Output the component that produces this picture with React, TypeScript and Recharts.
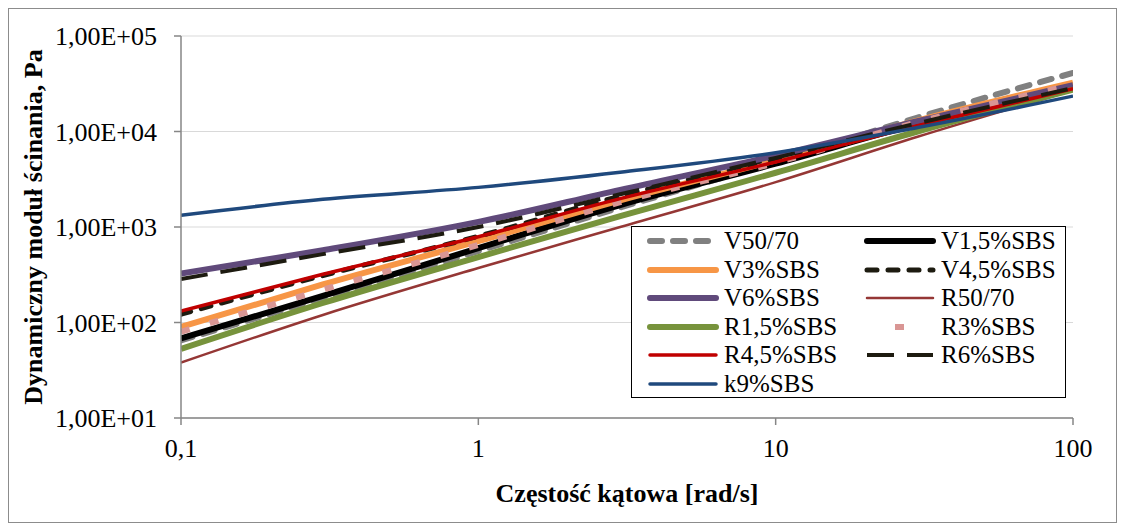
import React from "react";
import {
  CartesianGrid,
  Label,
  Legend,
  Line,
  LineChart,
  XAxis,
  YAxis,
} from "recharts";

const FONT = "Liberation Serif, DejaVu Serif, serif";

// angular frequency [rad/s]
const freq = [0.1, 0.3, 1, 3, 10, 30, 100];
const xTicks = [0.1, 1, 10, 100];
const yTicks = [10, 100, 1000, 10000, 100000];

// dynamic shear modulus [Pa]
const v5070 = [65, 180, 560, 1600, 4800, 14000, 41000];
const v15 = [68, 190, 600, 1700, 4600, 12000, 29500];
const v3 = [90, 250, 710, 1900, 5000, 13000, 32500];
const v45 = [122, 310, 800, 2100, 5200, 12500, 29000];
const v6 = [325, 570, 1130, 2450, 5600, 12800, 30500];
const r5070 = [38, 120, 372, 1000, 2950, 8800, 27000];
const r15 = [53, 160, 485, 1300, 3700, 10000, 27500];
const r3 = [80, 220, 650, 1820, 4700, 12500, 31000];
const r45 = [132, 320, 790, 1980, 4800, 11500, 28000];
const r6 = [285, 520, 1000, 2200, 5300, 12200, 28500];
const k9 = [1330, 1950, 2600, 3750, 6000, 11000, 23500];

type SeriesStyle = {
  name: string;
  values: number[];
  color: string;
  width: number;
  dash?: string;
  cap?: "round" | "butt";
};

const series: SeriesStyle[] = [
  { name: "V50/70", values: v5070, color: "#808080", width: 6, dash: "12 11", cap: "round" },
  { name: "V1,5%SBS", values: v15, color: "#000000", width: 6 },
  { name: "V3%SBS", values: v3, color: "#F79646", width: 6 },
  { name: "V4,5%SBS", values: v45, color: "#1D1B10", width: 5, dash: "10 11", cap: "round" },
  { name: "V6%SBS", values: v6, color: "#604A7B", width: 6 },
  { name: "R50/70", values: r5070, color: "#953735", width: 2.5 },
  { name: "R1,5%SBS", values: r15, color: "#77933C", width: 6 },
  { name: "R3%SBS", values: r3, color: "#D99694", width: 6, dash: "9 21", cap: "butt" },
  { name: "R4,5%SBS", values: r45, color: "#C00000", width: 3.5 },
  { name: "R6%SBS", values: r6, color: "#1D1B10", width: 4, dash: "27 13", cap: "butt" },
  { name: "k9%SBS", values: k9, color: "#1F497D", width: 3.5 },
];

const toPoints = (values: number[]) => values.map((y, i) => ({ x: freq[i], y }));

const fmtY = (v: number) => {
  const e = Math.round(Math.log10(v));
  return "1,00E+" + String(e).padStart(2, "0");
};
const fmtX = (v: number) => String(v).replace(".", ",");

const LegendBox = () => (
  <div
    style={{
      position: "relative",
      width: 433,
      height: 170,
      border: "1.5px solid #000",
      background: "#fff",
      fontFamily: FONT,
      fontSize: 25,
      color: "#000",
    }}
  >
    {series.map((s, i) => {
      const col = i % 2;
      const row = Math.floor(i / 2);
      const left = col === 0 ? 14 : 231;
      const top = 14 + row * 28.5;
      const isDots = s.name === "R3%SBS";
      return (
        <div key={s.name} style={{ position: "absolute", left, top: top - 14, height: 28, display: "flex", alignItems: "center" }}>
          <svg width={74} height={28}>
            {isDots ? (
              <line x1={32} x2={41} y1={14} y2={14} stroke={s.color} strokeWidth={6} />
            ) : (
              <line
                x1={4}
                x2={70}
                y1={14}
                y2={14}
                stroke={s.color}
                strokeWidth={s.width}
                strokeDasharray={s.dash}
                strokeLinecap={s.cap ?? "round"}
              />
            )}
          </svg>
          <span style={{ marginLeft: 4, lineHeight: "28px" }}>{s.name}</span>
        </div>
      );
    })}
  </div>
);

const App = () => {
  return (
    <div
      style={{
        width: 1107,
        height: 513,
        border: "1px solid #8c8c8c",
        background: "#fff",
        fontFamily: FONT,
      }}
    >
      <LineChart
        width={1107}
        height={513}
        margin={{ top: 27, right: 43, left: 0, bottom: 0 }}
        style={{ fontFamily: FONT }}
      >
        <CartesianGrid vertical={false} stroke="#d9d9d9" strokeWidth={1.2} />
        <XAxis
          type="number"
          dataKey="x"
          scale="log"
          domain={[0.1, 100]}
          ticks={xTicks}
          tickFormatter={fmtX}
          allowDataOverflow
          height={104}
          stroke="#868686"
          strokeWidth={1.5}
          tickSize={7}
          tickMargin={14}
          tick={{ fill: "#000", fontSize: 26, fontFamily: FONT }}
        >
          <Label
            content={({ viewBox }: any) => (
              <text
                x={viewBox.x + viewBox.width / 2}
                y={viewBox.y + 84}
                textAnchor="middle"
                fontFamily={FONT}
                fontSize={26}
                fontWeight="bold"
                fill="#000"
              >
                Częstość kątowa [rad/s]
              </text>
            )}
          />
        </XAxis>
        <YAxis
          type="number"
          dataKey="y"
          scale="log"
          domain={[10, 100000]}
          ticks={yTicks}
          tickFormatter={fmtY}
          allowDataOverflow
          width={172}
          stroke="#868686"
          strokeWidth={1.5}
          tickSize={7}
          tickMargin={17}
          tick={{ fill: "#000", fontSize: 26, fontFamily: FONT }}
        >
          <Label
            content={({ viewBox }: any) => {
              const cx = 24;
              const cy = viewBox.y + viewBox.height / 2;
              return (
                <text
                  x={cx}
                  y={cy}
                  transform={`rotate(-90, ${cx}, ${cy})`}
                  textAnchor="middle"
                  dominantBaseline="central"
                  fontFamily={FONT}
                  fontSize={26}
                  fontWeight="bold"
                  fill="#000"
                >
                  Dynamiczny moduł ścinania, Pa
                </text>
              );
            }}
          />
        </YAxis>
        {series.map((s) => (
          <Line
            key={s.name}
            data={toPoints(s.values)}
            dataKey="y"
            name={s.name}
            type="monotone"
            stroke={s.color}
            strokeWidth={s.width}
            strokeDasharray={s.dash}
            strokeLinecap={s.cap ?? "butt"}
            dot={false}
            activeDot={false}
            isAnimationActive={false}
          />
        ))}
        <Legend
          layout="vertical"
          align="center"
          verticalAlign="middle"
          wrapperStyle={{ left: 622, top: 217, width: 436, height: 173 }}
          content={() => <LegendBox />}
        />
      </LineChart>
    </div>
  );
};

export default App;
